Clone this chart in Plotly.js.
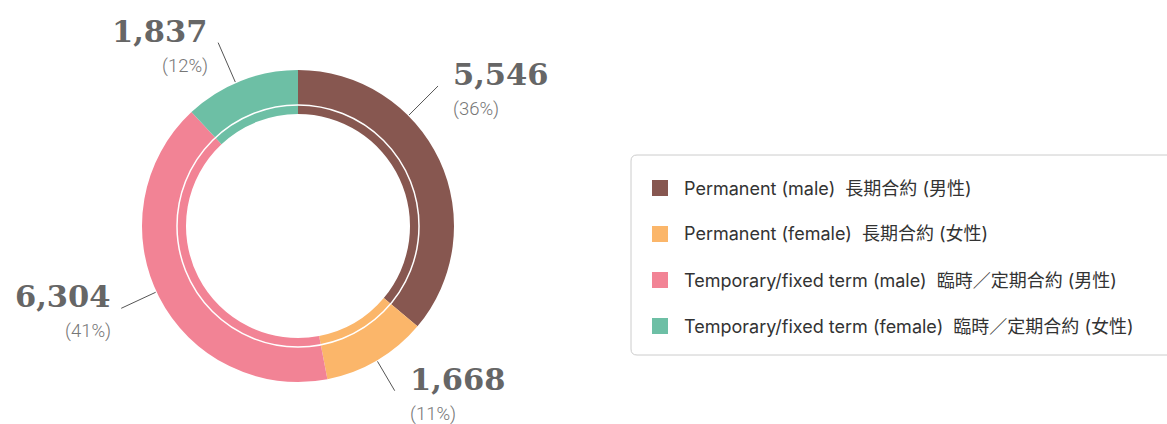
<!DOCTYPE html>
<html>
<head>
<meta charset="utf-8">
<script src="https://cdn.plot.ly/plotly-3.0.1.min.js"></script>
<style>
html,body{margin:0;padding:0;background:#fff;}
#chart{width:1167px;height:424px;}
</style>
</head>
<body>
<div id="chart"></div>
<script>
// ---- data ----
const categoriesEn = [
  "Permanent (male)",
  "Permanent (female)",
  "Temporary/fixed term (male)",
  "Temporary/fixed term (female)"
];
const categoriesZh = [
  "長期合約 (男性)",
  "長期合約 (女性)",
  "臨時／定期合約 (男性)",
  "臨時／定期合約 (女性)"
];
const values = [5546, 1668, 6304, 1837];
const colors = ["#875750", "#FBB66A", "#F28395", "#6DBFA5"];

// ---- geometry (pixels) ----
const W = 1167, H = 424;
const cx = 298, cy = 226, R = 156;
const px = x => x / W;
const py = y => (H - y) / H;

const total = values.reduce((a, b) => a + b, 0);
const categories = categoriesEn.map((e, i) => e + "  " + categoriesZh[i]);

const trace = {
  type: "pie",
  values: values,
  labels: categories,
  marker: {colors: colors, line: {width: 0}},
  sort: false,
  direction: "clockwise",
  rotation: 0,
  hole: 0.718,
  textinfo: "none",
  hoverinfo: "label+value+percent",
  domain: {x: [px(cx - R), px(cx + R)], y: [py(cy + R), py(cy - R)]},
  showlegend: false
};

const shapes = [];
const annotations = [];

// inner thin white ring
const rr = 121;
shapes.push({
  type: "circle", xref: "paper", yref: "paper",
  x0: px(cx - rr), x1: px(cx + rr), y0: py(cy + rr), y1: py(cy - rr),
  line: {color: "#ffffff", width: 1.5}, fillcolor: "rgba(0,0,0,0)"
});

// labels with leader lines
const angleAdjust = [-20, 0, 2, -2];
const outerLen = [198, 191, 195, 200];
let cum = 0;
values.forEach((v, i) => {
  const mid = (cum + v / 2) / total * 360 + angleAdjust[i];
  cum += v;
  const t = mid * Math.PI / 180;
  const s = Math.sin(t), c = Math.cos(t);
  const x1 = cx + 157 * s, y1 = cy - 157 * c;
  const x2 = cx + outerLen[i] * s, y2 = cy - outerLen[i] * c;
  shapes.push({
    type: "line", xref: "paper", yref: "paper",
    x0: px(x1), y0: py(y1), x1: px(x2), y1: py(y2),
    line: {color: "#555", width: 1}
  });
  const right = s > 0;
  const tx = right ? x2 + 13 : x2 - 8;
  const xa = right ? "left" : "right";
  annotations.push({
    xref: "paper", yref: "paper", x: px(tx), y: py(y2 - 12),
    xanchor: xa, yanchor: "middle", showarrow: false,
    text: "<b>" + v.toLocaleString("en-US") + "</b>",
    font: {family: "DejaVu Serif", size: 30.5, color: "#666"}
  });
  annotations.push({
    xref: "paper", yref: "paper", x: px(tx), y: py(y2 + 23),
    xanchor: xa, yanchor: "middle", showarrow: false,
    text: "(" + Math.round(v / total * 100) + "%)",
    font: {family: "Roboto", size: 18.5, color: "#777", weight: 300}
  });
});

// legend box (rounded)
const bx0 = 631, by0 = 155, bx1 = 1180, by1 = 355, rad = 6;
shapes.push({
  type: "path", xref: "paper", yref: "paper",
  path: `M ${px(bx0 + rad)} ${py(by0)} L ${px(bx1 - rad)} ${py(by0)} Q ${px(bx1)} ${py(by0)} ${px(bx1)} ${py(by0 + rad)} ` +
        `L ${px(bx1)} ${py(by1 - rad)} Q ${px(bx1)} ${py(by1)} ${px(bx1 - rad)} ${py(by1)} ` +
        `L ${px(bx0 + rad)} ${py(by1)} Q ${px(bx0)} ${py(by1)} ${px(bx0)} ${py(by1 - rad)} ` +
        `L ${px(bx0)} ${py(by0 + rad)} Q ${px(bx0)} ${py(by0)} ${px(bx0 + rad)} ${py(by0)} Z`,
  line: {color: "#cccccc", width: 1}, fillcolor: "rgba(0,0,0,0)"
});

categoriesEn.forEach((en, i) => {
  const yc = 188 + i * 46;
  shapes.push({
    type: "rect", xref: "paper", yref: "paper",
    x0: px(652), x1: px(668), y0: py(yc + 8), y1: py(yc - 8),
    fillcolor: colors[i], line: {width: 0}
  });
  annotations.push({
    xref: "paper", yref: "paper", x: px(682), y: py(yc),
    xanchor: "left", yanchor: "middle", showarrow: false,
    text: en + "  " + categoriesZh[i],
    font: {family: "Inter, Noto Sans CJK TC", size: 18, color: "#333"}
  });
});

const layout = {
  width: W, height: H,
  margin: {l: 0, r: 0, t: 0, b: 0},
  paper_bgcolor: "#fff",
  showlegend: false,
  shapes: shapes,
  annotations: annotations
};

Plotly.newPlot("chart", [trace], layout, {displayModeBar: false, staticPlot: true});
</script>
</body>
</html>
